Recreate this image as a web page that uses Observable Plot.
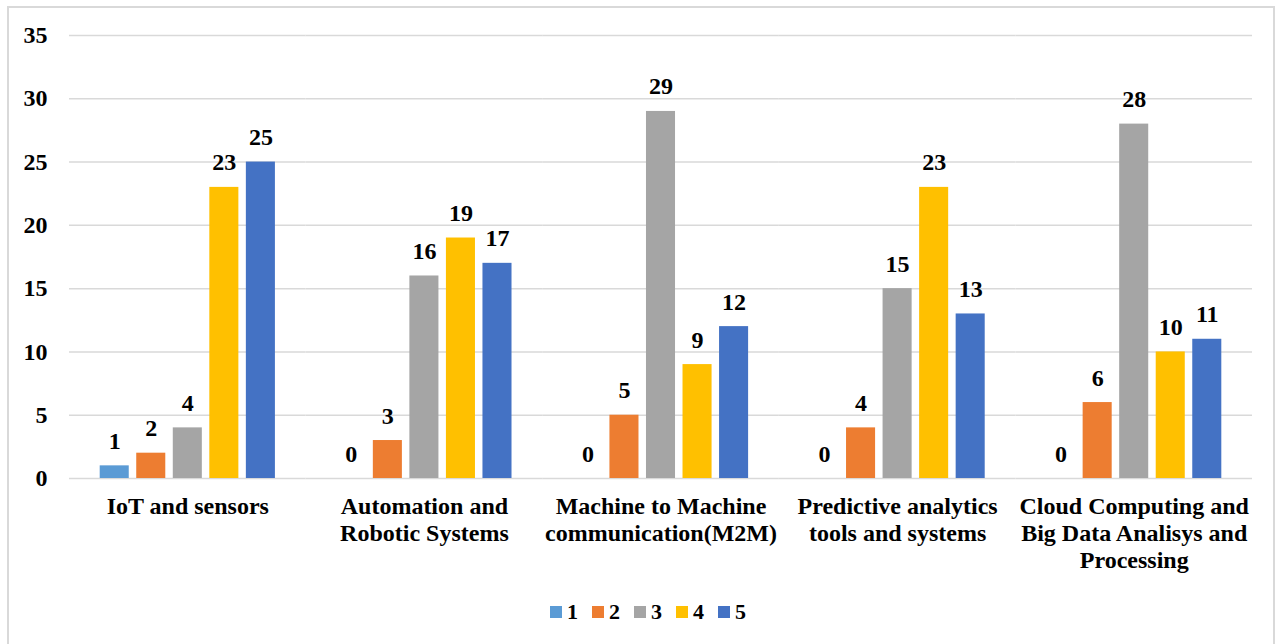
<!DOCTYPE html>
<html>
<head>
<meta charset="utf-8">
<script src="https://cdn.jsdelivr.net/npm/d3@7"></script>
<script src="https://cdn.jsdelivr.net/npm/@observablehq/plot@0.6"></script>
<style>
  html, body { margin: 0; padding: 0; background: #fff; }
  #wrap { position: relative; width: 1282px; height: 644px; overflow: hidden; font-family: "Liberation Serif", "Times New Roman", serif; }
  #frame { position: absolute; left: 7px; top: 6px; width: 1268px; height: 640px; border: 2px solid #d9d9d9; box-sizing: border-box; }
  #chart { position: absolute; left: 0; top: 0; }
  #legend { position: absolute; left: 550px; top: 599px; display: flex; gap: 14px; align-items: center; font-weight: bold; font-size: 22px; color: #000; }
  #legend .item { display: flex; align-items: center; gap: 5px; }
  #legend .sw { width: 12px; height: 12px; display: inline-block; }
</style>
</head>
<body>
<div id="wrap">
  <div id="frame"></div>
  <div id="chart"></div>
  <div id="legend"></div>
</div>
<script>
const categories = [
  "IoT and sensors",
  "Automation and Robotic Systems",
  "Machine to Machine communication(M2M)",
  "Predictive analytics tools and systems",
  "Cloud Computing and Big Data Analisys and Processing"
];
const categoryLabels = [
  "IoT and sensors",
  "Automation and\nRobotic Systems",
  "Machine to Machine\ncommunication(M2M)",
  "Predictive analytics\ntools and systems",
  "Cloud Computing and\nBig Data Analisys and\nProcessing"
];
const seriesNames = ["1", "2", "3", "4", "5"];
const series1 = [1, 0, 0, 0, 0];
const series2 = [2, 3, 5, 4, 6];
const series3 = [4, 16, 29, 15, 28];
const series4 = [23, 19, 9, 23, 10];
const series5 = [25, 17, 12, 13, 11];
const seriesColors = ["#5B9BD5", "#ED7D31", "#A5A5A5", "#FFC000", "#4472C4"];
const yTicks = [0, 5, 10, 15, 20, 25, 30, 35];

const allSeries = [series1, series2, series3, series4, series5];
const rows = [];
categories.forEach((c, i) => {
  seriesNames.forEach((s, j) => {
    rows.push({category: c, series: s, value: allSeries[j][i]});
  });
});
const labelOf = new Map(categories.map((c, i) => [c, categoryLabels[i]]));

const chart = Plot.plot({
  width: 1282,
  height: 585,
  marginLeft: 69,
  marginRight: 30,
  marginTop: 35,
  marginBottom: 107,
  style: {fontFamily: "'Liberation Serif', 'Times New Roman', serif", fontWeight: "bold", fontSize: "24px", color: "#000", background: "transparent", overflow: "visible"},
  facet: {data: rows, x: "category"},
  fx: {domain: categories, paddingInner: 0, paddingOuter: 0, round: false, label: null, axis: null},
  x: {domain: seriesNames, paddingInner: 0.205, paddingOuter: 0.84, round: false, axis: null},
  y: {domain: [0, 35], ticks: yTicks, tickSize: 0, tickPadding: 22, label: null, axis: "left"},
  color: {domain: seriesNames, range: seriesColors},
  marks: [
    Plot.ruleY(yTicks, {stroke: "#d9d9d9", strokeWidth: 1.5}),
    Plot.barY(rows, {x: "series", y: "value", fill: "series"}),
    Plot.text(rows, {x: "series", y: "value", text: d => String(d.value), lineAnchor: "bottom", dy: -17, fill: "#000", fontSize: 24, fontWeight: "bold"}),
    Plot.text(rows, {filter: d => d.series === "3", frameAnchor: "bottom", text: d => labelOf.get(d.category), lineAnchor: "top", dy: 16, lineHeight: 1.13, fill: "#000", fontSize: 24, fontWeight: "bold"})
  ]
});
document.getElementById("chart").appendChild(chart);

const legend = document.getElementById("legend");
seriesNames.forEach((s, i) => {
  const item = document.createElement("div");
  item.className = "item";
  const sw = document.createElement("span");
  sw.className = "sw";
  sw.style.background = seriesColors[i];
  const lab = document.createElement("span");
  lab.textContent = s;
  item.appendChild(sw);
  item.appendChild(lab);
  legend.appendChild(item);
});
</script>
</body>
</html>
